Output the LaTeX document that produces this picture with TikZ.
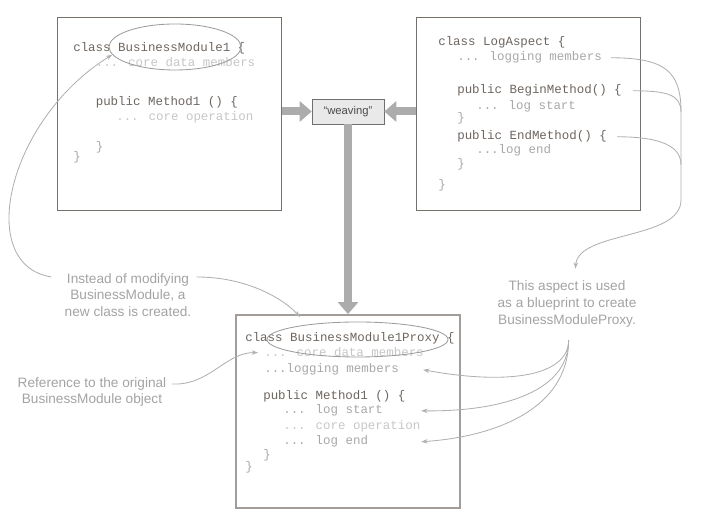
\documentclass[tikz,border=0pt]{standalone}
\usepackage{fontspec}
\setmainfont{Liberation Sans}
\newfontfamily\codefont{Liberation Mono}
\usetikzlibrary{positioning, calc, arrows.meta, shapes.geometric}

\definecolor{boxgray}{HTML}{76706A}
\definecolor{boxlight}{HTML}{A29D98}
\definecolor{fatgray}{HTML}{ACACAC}
\definecolor{weavefill}{HTML}{E9E9E9}
\definecolor{weaveline}{HTML}{6F6F6F}
\definecolor{weavetext}{HTML}{4A4A4A}
\definecolor{codedark}{HTML}{6D655F}
\definecolor{codemid}{HTML}{A7A7A7}
\definecolor{codelight}{HTML}{C6C6C6}
\definecolor{notegray}{HTML}{A3A3A3}
\definecolor{linkgray}{HTML}{B0B0B0}
\definecolor{ovalgray}{HTML}{9C9C9C}

\begin{document}
\begin{tikzpicture}[
    box/.style={draw=boxgray, line width=0.7pt, rectangle, minimum width=5.6cm,
                minimum height=4.825cm, inner sep=0pt},
    code/.style={anchor=base west, inner sep=0pt,
                 font=\codefont\fontsize{8.86}{10}\selectfont},
    codedk/.style={code, text=codedark},
    codemd/.style={code, text=codemid},
    codelt/.style={code, text=codelight},
    oval/.style={draw=ovalgray, line width=0.6pt, ellipse, inner sep=0pt},
    note/.style={align=center, inner sep=0pt, text=notegray,
                 font=\fontsize{9.7}{11.9}\selectfont},
    link/.style={draw=linkgray, line width=0.6pt},
    fat/.style={draw=fatgray, line width=0.2cm,
                -{Triangle[length=0.3cm, width=0.5cm]}},
    >={Stealth[length=4.5pt, width=3.2pt]},
]
\useasboundingbox (0,0) rectangle (17.575,13.2);

% =================================================================
%  THE THREE CLASS BOXES AND THE WEAVER
% =================================================================
\node[box] (bm) at (4.2375, 10.35)  {};
\node[box] (la) at (13.2, 10.3375)  {};
\node[box, draw=boxlight, line width=1.3pt] (proxy) at (8.7, 2.9125) {};

\node[draw=weaveline, fill=weavefill, minimum width=1.8cm, minimum height=0.625cm,
      inner sep=0pt, text=weavetext, font=\fontsize{8}{9}\selectfont]
      (weave) at (8.7, 10.4125) {“weaving”};

\draw[fat] (bm.east |- weave) -- (weave.west);
\draw[fat] (la.west |- weave) -- (weave.east);
\draw[fat] (weave.south) -- (proxy.north);

% =================================================================
%  BusinessModule1
% =================================================================
\node[codedk] (l1) at (1.825, 11.9)    {class BusinessModule1 \{};
\node[codelt] (l2) at (2.3875, 11.525) {... core data members};
\node[codedk] (l3) at (2.3875, 10.55)  {public Method1 () \{};
\node[codelt] (l4) at (2.9, 10.175)    {... core operation};
\node[codemd] (l5) at (2.3875, 9.425)  {\}};
\node[codemd] (l6) at (1.825, 9.175)   {\}};

% =================================================================
%  LogAspect
% =================================================================
\node[codedk] (r1) at (10.95, 12.05)   {class LogAspect \{};
\node[codemd] (r2) at (11.425, 11.675) {... logging members};
\node[codedk] (r3) at (11.425, 10.85)  {public BeginMethod() \{};
\node[codemd] (r4) at (11.9, 10.45)    {... log start};
\node[codemd] (r5) at (11.425, 10.15)  {\}};
\node[codedk] (r6) at (11.425, 9.7)    {public EndMethod() \{};
\node[codemd] (r7) at (11.9, 9.35)     {...log end};
\node[codemd] (r8) at (11.425, 9.0)    {\}};
\node[codemd] (r9) at (10.95, 8.475)   {\}};

% =================================================================
%  BusinessModule1Proxy
% =================================================================
\node[codedk] (b1) at (6.125, 4.65)  {class BusinessModule1Proxy \{};
\node[codelt] (b2) at (6.6, 4.275)   {... core data members};
\node[codemd] (b3) at (6.6, 3.875)   {...logging members};
\node[codedk] (b4) at (6.575, 3.2)   {public Method1 () \{};
\node[codemd] (b5) at (7.075, 2.85)  {... log start};
\node[codelt] (b6) at (7.075, 2.45)  {... core operation};
\node[codemd] (b7) at (7.075, 2.075) {... log end};
\node[codemd] (b8) at (6.575, 1.725) {\}};
\node[codemd] (b9) at (6.125, 1.425) {\}};

\node[oval, minimum width=3.3cm, minimum height=1.15cm]    (ov1) at (4.375, 12.025) {};
\node[oval, minimum width=4.525cm, minimum height=0.875cm] (ov2) at (8.9375, 4.7125) {};

% =================================================================
%  NOTES
% =================================================================
\node[note] (instead) at (3.2, 5.825)
    {Instead of modifying\\BusinessModule, a\\new class is created.};
\node[note] (refnote) at (2.3, 3.4)
    {Reference to the original\\BusinessModule object};
\node[note] (aspect) at (14.175, 5.6)
    {This aspect is used\\as a blueprint to create\\BusinessModuleProxy.};

\draw[link, ->] ($(instead.north west)+(-0.325,-0.1)$)
    .. controls +(-1.925,0.3) and +(-2.625,-1.625) .. (ov1.187);
\draw[link, ->] ($(instead.north east)+(0.125,-0.1)$)
    .. controls +(1.3,0) and +(-0.375,0.425) .. ($(ov2)+(-1.44,0.56)$);
\draw[link, ->] ($(refnote.north east)+(0.125,-0.175)$)
    .. controls +(0.95,-0.05) and +(-0.825,0) .. ([xshift=-0.15cm]b2.west);

% aspect members gathered on the right
\coordinate (busTop) at (17.025, 10.4);
\coordinate (busBot) at (17.025, 8.2);
\draw[link, ->] ([xshift=0.22cm]r2.east) .. controls +(1.375,0) and +(0,1.0) .. (busTop)
    -- (busBot) .. controls +(0,-1.0) and +(0.075,0.95) .. ($(aspect.north)+(0.21,0.3)$);
\draw[link] ([xshift=0.27cm]r3.east) .. controls +(0.875,0) and +(0,0.425) .. (busTop);
\draw[link] ([xshift=0.25cm]r6.east) .. controls +(1.125,0) and +(0,0.45)
    .. ($(busTop)!0.6!(busBot)$);

% blueprint fanned out into the proxy
\coordinate (fan) at ($(aspect.south)+(0.04,-0.32)$);
\draw[link, ->] (fan) .. controls +(0,-0.875) and +(2.2,-0.4)   .. ([xshift=0.6cm]b3.east);
\draw[link, ->] (fan) .. controls +(0,-1.375) and +(1.8,-0.025) .. ([xshift=0.95cm]b5.east);
\draw[link, ->] (fan) .. controls +(0,-1.75) and +(1.8,0.125)   .. ([xshift=1.325cm]b7.east);

\end{tikzpicture}
\end{document}
